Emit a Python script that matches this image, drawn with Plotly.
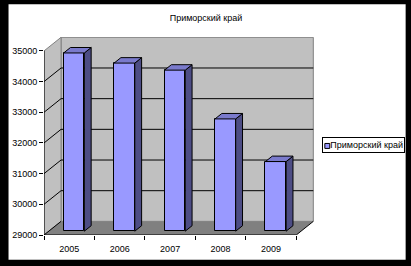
import plotly.graph_objects as go

# ---- data ----
years = ["2005", "2006", "2007", "2008", "2009"]
values = [34810, 34480, 34250, 32660, 31270]
y_ticks = [29000, 30000, 31000, 32000, 33000, 34000, 35000]
y_ticklabels = ["29000", "30000", "31000", "32000", "33000", "34000", "35000"]
series_name = "Приморский край"
title_text = "Приморский край"

# ---- geometry / style ----
W, H = 411, 266
L, R, T, B = 40, 97, 37, 30
PW, PH = W - L - R, H - T - B
XPX = 51.2                # px per category
YPX = 0.03083             # px per value unit
Y0, Y1 = y_ticks[0], y_ticks[-1]
XMIN = -0.5
XMAX = XMIN + PW / XPX
YMAX = Y0 + PH / YPX
DX = 17.3 / XPX           # depth offset (x units)
DY = 13.7 / YPX           # depth offset (value units)
F1, F2 = 0.28, 0.68       # bar front/back depth fractions
BW = 0.41
FONT = "Liberation Sans, Arial, sans-serif"

FRONT = "#9999FF"
TOP = "#7A7ACC"
SIDE = "#4D4D85"
WALL = "#C0C0C0"
FLOOR = "#808080"


def px_x(p):
    return (p - L) / PW


def px_y(p):
    return (H - B - p) / PH


n = len(years)
pos = list(range(n))
xl_axis, xr_axis = pos[0] - 0.5, pos[-1] + 0.5

front_x = [p + F1 * DX for p in pos]
base = Y0 + F1 * DY
heights = [v - Y0 for v in values]
ddx, ddy = (F2 - F1) * DX, (F2 - F1) * DY

side_x, side_y, top_x, top_y = [], [], [], []
for i in range(n):
    xl = front_x[i] - BW / 2
    xr = front_x[i] + BW / 2
    t = values[i] + F1 * DY
    side_x += [xr, xr + ddx, xr + ddx, xr, xr, None]
    side_y += [base, base + ddy, t + ddy, t, base, None]
    top_x += [xl, xr, xr + ddx, xl + ddx, xl, None]
    top_y += [t, t, t + ddy, t + ddy, t, None]

fig = go.Figure()
fig.add_trace(go.Bar(
    x=front_x, y=heights, base=[base] * n, width=BW, name=series_name,
    marker=dict(color=FRONT, line=dict(color="black", width=1)),
    showlegend=False, hoverinfo="skip"))
fig.add_trace(go.Scatter(
    x=side_x, y=side_y, mode="lines", fill="toself", fillcolor=SIDE,
    line=dict(color="black", width=1), showlegend=False, hoverinfo="skip"))
fig.add_trace(go.Scatter(
    x=top_x, y=top_y, mode="lines", fill="toself", fillcolor=TOP,
    line=dict(color="black", width=1), showlegend=False, hoverinfo="skip"))

shapes = []
# white chart area inside black frame
shapes.append(dict(type="rect", xref="paper", yref="paper", layer="below",
                   x0=px_x(4), x1=px_x(407), y0=px_y(261), y1=px_y(4),
                   fillcolor="white", line=dict(width=0)))
# back wall
shapes.append(dict(type="rect", xref="x", yref="y", layer="below",
                   x0=xl_axis + DX, x1=xr_axis + DX, y0=Y0 + DY, y1=Y1 + DY,
                   fillcolor=WALL, line=dict(color=FLOOR, width=1)))
# side wall
shapes.append(dict(type="path", xref="x", yref="y", layer="below",
                   path=f"M {xl_axis},{Y0} L {xl_axis},{Y1} L {xl_axis + DX},{Y1 + DY} L {xl_axis + DX},{Y0 + DY} Z",
                   fillcolor=WALL, line=dict(color=FLOOR, width=1)))
# floor
shapes.append(dict(type="path", xref="x", yref="y", layer="below",
                   path=f"M {xl_axis},{Y0} L {xr_axis},{Y0} L {xr_axis + DX},{Y0 + DY} L {xl_axis + DX},{Y0 + DY} Z",
                   fillcolor=FLOOR, line=dict(width=0)))
# gridlines on back wall and side wall
for v in y_ticks:
    if Y0 < v < Y1:
        shapes.append(dict(type="line", xref="x", yref="y", layer="below",
                           x0=xl_axis + DX, x1=xr_axis + DX, y0=v + DY, y1=v + DY,
                           line=dict(color="black", width=1)))
    if v < Y1:
        shapes.append(dict(type="line", xref="x", yref="y", layer="below",
                           x0=xl_axis, x1=xl_axis + DX, y0=v, y1=v + DY,
                           line=dict(color="black", width=1)))
# front axes
shapes.append(dict(type="line", xref="x", yref="y", layer="below",
                   x0=xl_axis, x1=xl_axis, y0=Y0, y1=Y1, line=dict(color="black", width=1)))
shapes.append(dict(type="line", xref="x", yref="y", layer="below",
                   x0=xl_axis, x1=xr_axis, y0=Y0, y1=Y0, line=dict(color="black", width=1)))
shapes.append(dict(type="line", xref="x", yref="y", layer="below",
                   x0=xr_axis, x1=xr_axis + DX, y0=Y0, y1=Y0 + DY, line=dict(color="black", width=1)))
# legend swatch
shapes.append(dict(type="rect", xref="paper", yref="paper", layer="above",
                   x0=px_x(325), x1=px_x(330), y0=px_y(149), y1=px_y(144),
                   fillcolor=FRONT, line=dict(color="black", width=1)))

annotations = [dict(
    xref="paper", yref="paper", x=px_x(322), y=px_y(138), xanchor="left", yanchor="top",
    text=series_name, showarrow=False, width=79, height=12, align="right", valign="middle",
    bordercolor="black", borderwidth=1, borderpad=1, bgcolor="rgba(0,0,0,0)",
    font=dict(family=FONT, size=9, color="black"))]

fig.update_layout(
    width=W, height=H, autosize=False,
    margin=dict(l=L, r=R, t=T, b=B, pad=0),
    paper_bgcolor="black", plot_bgcolor="rgba(0,0,0,0)",
    font=dict(family=FONT, size=9, color="black"),
    title=dict(text=title_text, x=206 / W, xref="container", xanchor="center",
               y=1 - 17.5 / H, yref="container", yanchor="middle",
               font=dict(family=FONT, size=9, color="black")),
    showlegend=False,
    shapes=shapes, annotations=annotations,
    bargap=0,
    xaxis=dict(range=[XMIN, XMAX], showgrid=False, zeroline=False, showline=False,
               tickmode="array", tickvals=pos, ticktext=years, ticks="",
               ticklabelstandoff=7,
               tickfont=dict(family=FONT, size=9, color="black"),
               minor=dict(tickmode="array", tickvals=[p - 0.5 for p in pos] + [xr_axis],
                          ticks="outside", ticklen=4, tickcolor="black", tickwidth=1,
                          showgrid=False),
               fixedrange=True),
    yaxis=dict(range=[Y0, YMAX], showgrid=False, zeroline=False, showline=False,
               tickmode="array", tickvals=y_ticks, ticktext=y_ticklabels,
               ticks="outside", ticklen=4, tickcolor="black", tickwidth=1,
               tickfont=dict(family=FONT, size=9, color="black"),
               fixedrange=True),
)

fig.write_html("out.html", config={"displayModeBar": False})
